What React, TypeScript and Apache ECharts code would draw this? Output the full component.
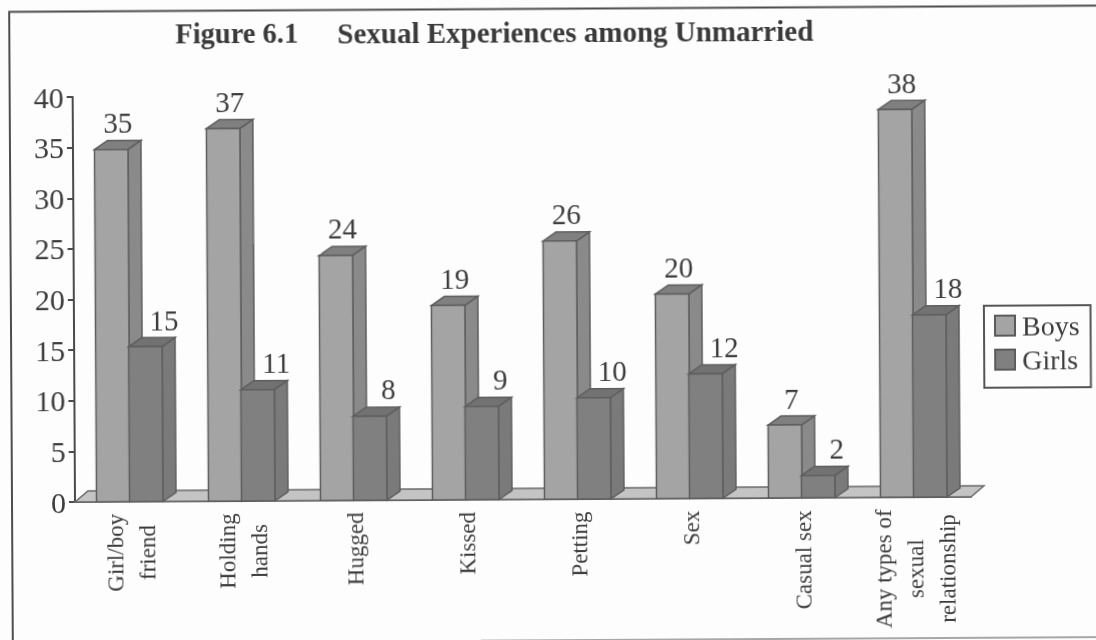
import React, { useEffect, useRef } from "react";
import * as echarts from "echarts";

const categories = [
  "Girl/boy\nfriend",
  "Holding\nhands",
  "Hugged",
  "Kissed",
  "Petting",
  "Sex",
  "Casual sex",
  "Any types of\nsexual\nrelationship",
];
const boys = [34.8, 36.8, 24.2, 19.2, 25.5, 20.2, 7.2, 38.3];
const girls = [15.3, 11, 8.3, 9.2, 10, 12.3, 2.2, 18];
const yTicks = { min: 0, max: 40, interval: 5 };

const SERIF = '"Liberation Serif", serif';
const INK = "#3c3c3c";
const LABEL_SIZE = 23;
const DX = 13;
const DY = 9;

const measure = (() => {
  const ctx = document.createElement("canvas").getContext("2d")!;
  ctx.font = `${LABEL_SIZE}px "Liberation Serif"`;
  return (s: string) => Math.ceil(ctx.measureText(s).width);
})();

const rich: Record<string, any> = {};
categories.forEach((c, i) => {
  rich["c" + i] = {
    width: Math.max(...c.split("\n").map(measure)),
    align: "center",
    fontFamily: SERIF,
    fontSize: LABEL_SIZE,
    lineHeight: 32,
    color: INK,
  };
});

function barSeries(
  name: string,
  values: number[],
  offset: number,
  colors: { front: string; side: string; top: string },
  labelShift: number
) {
  return {
    type: "custom",
    name,
    clip: false,
    z: 3,
    itemStyle: { color: colors.front, borderColor: "#5a5a5a", borderWidth: 1.5 },
    encode: { x: 0, y: 1 },
    data: values.map((v, i) => [i, v]),
    renderItem: (_p: any, api: any) => {
      const [cx, top] = api.coord([api.value(0), api.value(1)]);
      const [, base] = api.coord([api.value(0), 0]);
      const band = api.size([1, 0])[0];
      const l = cx - band / 2 + offset;
      const r = l + 33.5;
      const line = { stroke: "#5e5e5e", lineWidth: 1.5 };
      return {
        type: "group",
        children: [
          {
            type: "polygon",
            shape: { points: [[r, base], [r + DX, base - DY], [r + DX, top - DY], [r, top]] },
            style: { fill: colors.side, ...line },
          },
          {
            type: "polygon",
            shape: { points: [[l, top], [l + DX, top - DY], [r + DX, top - DY], [r, top]] },
            style: { fill: colors.top, ...line },
          },
          {
            type: "rect",
            shape: { x: l, y: top, width: r - l, height: base - top },
            style: { fill: colors.front, ...line },
          },
          {
            type: "text",
            style: {
              text: String(Math.round(api.value(1))),
              x: l + 16.5 + labelShift,
              y: top - DY - 3,
              align: "center",
              verticalAlign: "bottom",
              fontFamily: SERIF,
              fontSize: 29,
              fill: INK,
            },
          },
        ],
      };
    },
  };
}

const floorSeries = {
  type: "custom",
  silent: true,
  clip: false,
  z: 1,
  data: [[0, 0]],
  encode: { x: 0, y: 1 },
  renderItem: (p: any) => {
    const g = p.coordSys;
    const b = g.y + g.height;
    return {
      type: "polygon",
      shape: {
        points: [
          [g.x, b],
          [g.x + DX, b - DY - 2],
          [g.x + g.width + DX, b - DY - 2],
          [g.x + g.width, b],
        ],
      },
      style: { fill: "#c4c4c4", stroke: "#6a6a6a", lineWidth: 1.5 },
    };
  },
};

const frame = (points: number[][], stroke: string, lineWidth: number) => ({
  type: "polyline",
  silent: true,
  shape: { points },
  style: { stroke, lineWidth, fill: "none" },
});

const titleStyle = { fontFamily: SERIF, fontSize: 28.5, fontWeight: "bold", color: "#3a3a3a" };

export default function App() {
  const ref = useRef<HTMLDivElement>(null);
  useEffect(() => {
    document.body.style.margin = "0";
    document.body.style.overflow = "hidden";
    document.body.style.background = "#fdfdfd";
    const chart = echarts.init(ref.current!, undefined, { renderer: "svg" });
    chart.setOption({
      animation: false,
      backgroundColor: "#fdfdfd",
      title: [
        { text: "Figure 6.1", left: 178, top: 20, padding: 0, textStyle: titleStyle },
        {
          text: "Sexual Experiences among Unmarried",
          left: 340,
          top: 20,
          padding: 0,
          textStyle: { ...titleStyle, fontSize: 29 },
        },
      ],
      legend: {
        orient: "vertical",
        left: 985,
        top: 311,
        data: ["Boys", "Girls"],
        icon: "rect",
        itemWidth: 20,
        itemHeight: 20,
        itemGap: 6,
        padding: [6, 11, 14, 10],
        borderColor: "#555",
        borderWidth: 2,
        backgroundColor: "#fdfdfd",
        textStyle: { fontFamily: SERIF, fontSize: 28, color: INK, padding: [0, 0, 0, 2] },
      },
      grid: { left: 75, top: 97, width: 896, height: 405 },
      xAxis: {
        type: "category",
        data: categories,
        axisLine: { lineStyle: { color: "#4a4a4a", width: 2 } },
        axisTick: { length: 8, lineStyle: { color: "#4a4a4a", width: 2 } },
        axisLabel: {
          interval: 0,
          rotate: 90,
          margin: 12,
          rich,
          formatter: (v: string) => {
            const i = categories.indexOf(v);
            return v.split("\n").map((s) => `{c${i}|${s}}`).join("\n");
          },
        },
      },
      yAxis: {
        type: "value",
        ...yTicks,
        splitLine: { show: false },
        axisLine: { show: true, lineStyle: { color: "#4a4a4a", width: 2 } },
        axisTick: { show: true, length: 6, lineStyle: { color: "#4a4a4a", width: 2 } },
        axisLabel: { fontFamily: SERIF, fontSize: 30, color: INK, margin: 9 },
      },
      graphic: [
        frame([[12, 640], [12, 11.6], [1115, 11.6]], "#4d4d4d", 2),
        frame([[480, 643], [1115, 643]], "#8a8a8a", 1.5),
      ],
      series: [
        floorSeries,
        barSeries("Boys", boys, 21.5, { front: "#a4a4a4", side: "#8a8a8a", top: "#808080" }, 7),
        barSeries("Girls", girls, 54.5, { front: "#808080", side: "#7a7a7a", top: "#727272" }, 19),
      ],
    });
    return () => chart.dispose();
  }, []);
  return (
    <div
      ref={ref}
      style={{
        position: "fixed",
        left: 0,
        top: 0,
        width: 1120,
        height: 660,
        transform: "rotate(-0.33deg)",
        transformOrigin: "75px 502px",
      }}
    />
  );
}
